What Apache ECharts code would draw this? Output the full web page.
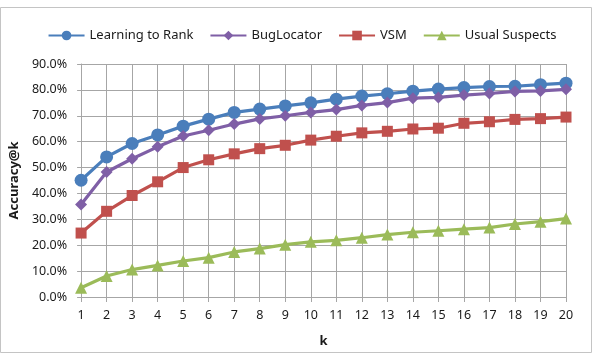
<!DOCTYPE html>
<html>
<head>
<meta charset="utf-8">
<script src="https://cdn.jsdelivr.net/npm/echarts@6/dist/echarts.min.js"></script>
<style>
  html, body { margin: 0; padding: 0; background: #fff; }
  #chart { width: 604px; height: 360px; }
</style>
</head>
<body>
<div id="chart"></div>
<script>
const kValues = ['1','2','3','4','5','6','7','8','9','10','11','12','13','14','15','16','17','18','19','20'];
const learningToRank = [45.1, 54.1, 59.3, 62.6, 66.0, 68.7, 71.3, 72.6, 73.8, 75.0, 76.4, 77.6, 78.5, 79.5, 80.3, 80.9, 81.3, 81.4, 82.0, 82.6];
const bugLocator = [35.7, 48.3, 53.4, 58.0, 62.2, 64.4, 66.8, 68.8, 70.0, 71.3, 72.4, 74.0, 75.1, 76.8, 77.1, 78.0, 78.6, 79.4, 79.6, 80.2];
const vsm = [24.7, 33.1, 39.2, 44.5, 50.0, 53.0, 55.3, 57.3, 58.6, 60.6, 62.1, 63.4, 64.0, 64.9, 65.2, 67.1, 67.7, 68.6, 68.9, 69.5];
const usualSuspects = [3.6, 8.1, 10.6, 12.2, 13.9, 15.2, 17.4, 18.7, 20.2, 21.3, 21.9, 22.9, 24.1, 25.0, 25.6, 26.2, 26.8, 28.2, 29.1, 30.3];

const font = '"Noto Sans", "Liberation Sans", sans-serif';
const gridGray = '#a6a6a6';

function makeSeries(name, data, color, symbol, size) {
  return {
    name: name, type: 'line', data: data,
    symbol: symbol, symbolSize: size,
    lineStyle: { width: 3.2, color: color },
    itemStyle: { color: color },
    emphasis: { disabled: true }
  };
}

const chart = echarts.init(document.getElementById('chart'), null, { renderer: 'canvas' });
const option = {
  backgroundColor: '#ffffff',
  animation: false,
  textStyle: { fontFamily: font },
  graphic: [{
    type: 'rect', shape: { x: 0.5, y: 7.5, width: 591, height: 345 },
    style: { fill: 'none', stroke: '#c4c4c4', lineWidth: 1 }, z: -1
  }],
  legend: {
    top: 24, left: 'center',
    itemWidth: 36, itemHeight: 12, itemGap: 16,
    textStyle: { fontFamily: font, fontSize: 13, color: '#1a1a1a' },
    data: ['Learning to Rank', 'BugLocator', 'VSM', 'Usual Suspects']
  },
  grid: { left: 80, right: 38, top: 64, bottom: 63 },
  xAxis: {
    type: 'category', data: kValues, boundaryGap: false,
    name: 'k', nameLocation: 'middle', nameGap: 38,
    nameTextStyle: { fontFamily: font, fontSize: 13, fontWeight: 'bold', color: '#1a1a1a' },
    axisLine: { lineStyle: { color: gridGray, width: 1 } },
    axisTick: { show: true, length: 5, interval: 0, lineStyle: { color: gridGray } },
    axisLabel: { interval: 0, margin: 12, fontSize: 12.5, color: '#1a1a1a', fontFamily: font },
    splitLine: { show: true, interval: 0, lineStyle: { color: gridGray, width: 1 } }
  },
  yAxis: {
    type: 'value', min: 0, max: 90, interval: 10,
    name: 'Accuracy@k', nameLocation: 'middle', nameGap: 60, nameRotate: 90,
    nameTextStyle: { fontFamily: font, fontSize: 13, fontWeight: 'bold', color: '#1a1a1a' },
    axisLine: { show: true, lineStyle: { color: gridGray, width: 1 } },
    axisTick: { show: true, length: 4, lineStyle: { color: gridGray } },
    axisLabel: { margin: 14, fontSize: 12.5, color: '#1a1a1a', fontFamily: font,
      formatter: v => v.toFixed(1) + '%' },
    splitLine: { show: true, lineStyle: { color: gridGray, width: 1 } }
  },
  series: [
    makeSeries('Learning to Rank', learningToRank, '#4a7ebb', 'circle', 13),
    makeSeries('BugLocator', bugLocator, '#7f5fa6', 'diamond', 12),
    makeSeries('VSM', vsm, '#c0504d', 'rect', 11),
    makeSeries('Usual Suspects', usualSuspects, '#9bbb59', 'triangle', 12)
  ]
};
chart.setOption(option);
</script>
</body>
</html>
